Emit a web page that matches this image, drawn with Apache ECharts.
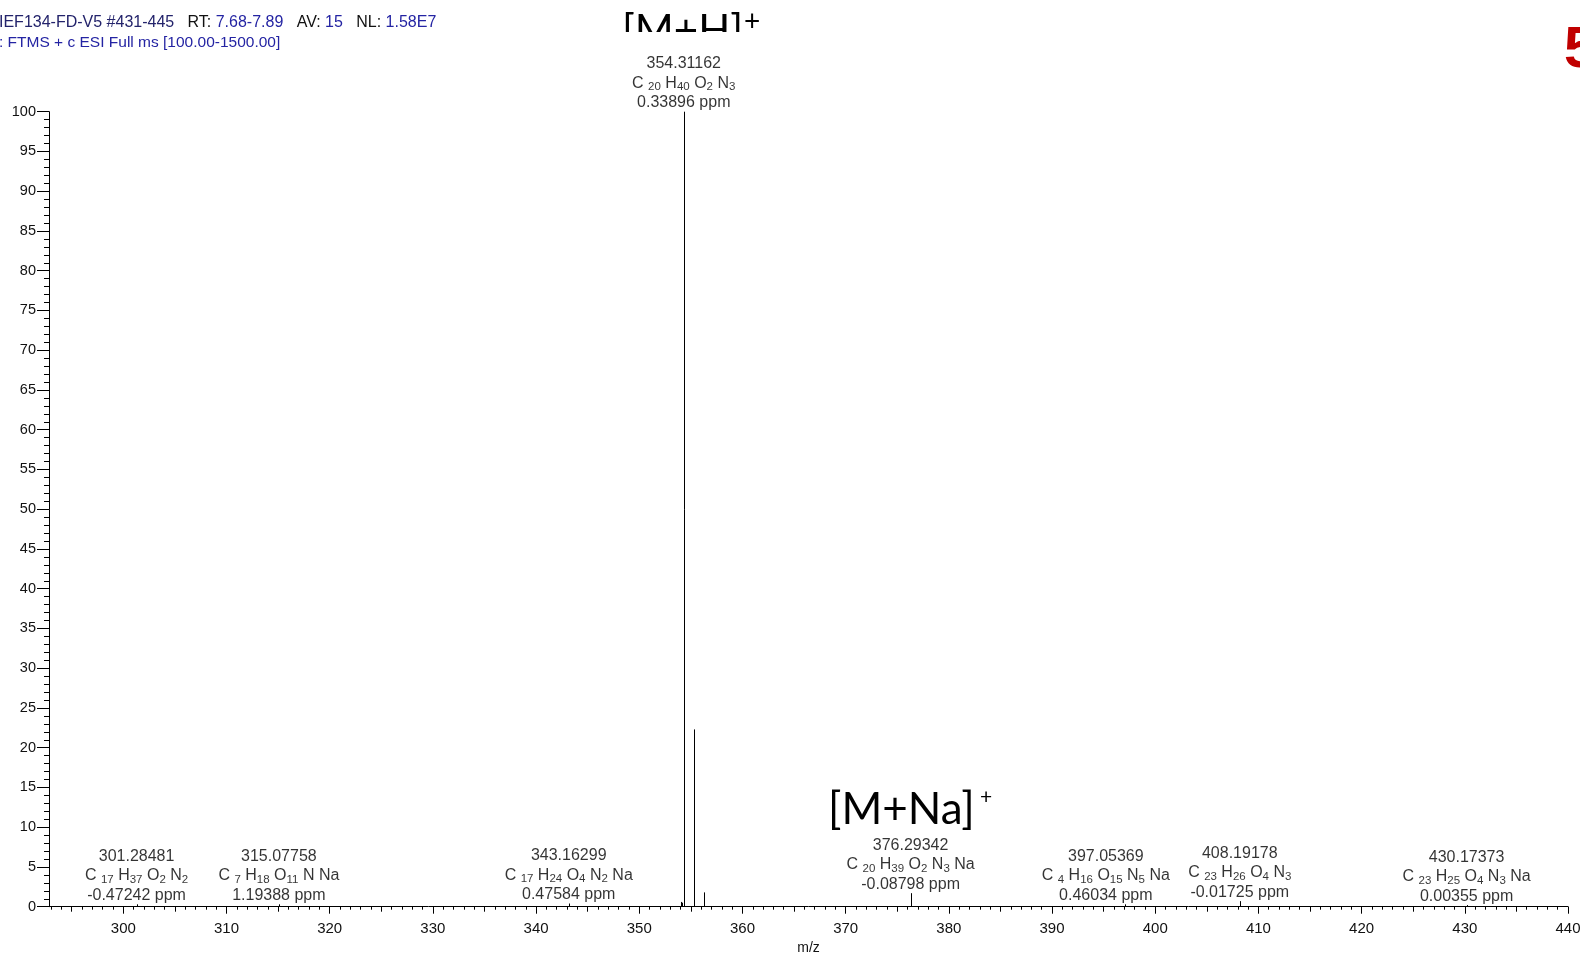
<!DOCTYPE html>
<html>
<head>
<meta charset="utf-8">
<title>FTMS spectrum</title>
<script src="https://cdn.jsdelivr.net/npm/echarts@6/dist/echarts.min.js"></script>
<style>
html, body { margin: 0; padding: 0; background: #fff; }
#main { width: 1580px; height: 956px; }
</style>
</head>
<body>
<div id="main"></div>
<script>
// stick spectrum, relative abundance (%)
var peakMz = [301.28481, 315.07758, 343.16299, 354.05, 354.16, 354.31162, 355.31, 356.31, 376.29342, 397.05369, 408.19178, 430.17373];
var peakInt = [0.3, 0.3, 0.4, 0.6, 0.5, 100, 22.3, 1.8, 1.7, 0.3, 0.7, 0.2];

// annotated peaks
var labelMz = [301.28481, 315.07758, 343.16299, 354.31162, 376.29342, 397.05369, 408.19178, 430.17373];
var labelFormula = ['C17 H37 O2 N2', 'C7 H18 O11 N Na', 'C17 H24 O4 N2 Na', 'C20 H40 O2 N3',
    'C20 H39 O2 N3 Na', 'C4 H16 O15 N5 Na', 'C23 H26 O4 N3', 'C23 H25 O4 N3 Na'];
var labelPpm = ['-0.47242', '1.19388', '0.47584', '0.33896', '-0.08798', '0.46034', '-0.01725', '0.00355'];

var xMajor = [300, 310, 320, 330, 340, 350, 360, 370, 380, 390, 400, 410, 420, 430, 440];

var xMid = [], xMinor = [];
for (var v = 293; v <= 440; v++) {
    if (v % 5 === 0) { if (v % 10 !== 0) xMid.push(v); }
    else xMinor.push(v);
}

var FONT = '"Liberation Sans", Arial, sans-serif';
var DARK = '#000';

function formulaRich(f) {
    return f.split(' ').map(function (part, i) {
        var m = part.match(/^([A-Z][a-z]?)(\d*)$/);
        var s = '{t|' + m[1] + (i === 0 ? ' ' : '') + '}';
        if (m[2]) s += '{s|' + m[2] + '}';
        return s;
    }).join('{t| }');
}

var labelData = labelMz.map(function (mz, i) {
    var item = {value: [mz, peakInt[peakMz.indexOf(mz)]], idx: i};
    // label pushed left by the instrument software to clear its neighbour
    if (mz === 397.05369) item.label = {offset: [-19, 0]};
    return item;
});

var hiddenX = {
    type: 'value', min: 292.8, max: 440, position: 'bottom',
    axisLine: {show: false}, axisLabel: {show: false}, splitLine: {show: false}
};

option = {
    animation: false,
    grid: {left: 49, right: 12, top: 111.7, bottom: 49.3, outerBoundsMode: 'none', containLabel: false},
    xAxis: [{
        type: 'value', min: 292.8, max: 440, position: 'bottom',
        axisLine: {lineStyle: {color: '#000', width: 1}},
        axisTick: {customValues: xMajor, length: 7, lineStyle: {color: '#000'}},
        axisLabel: {customValues: xMajor, fontSize: 15, color: '#111', margin: 15, fontFamily: FONT},
        splitLine: {show: false},
        name: 'm/z', nameLocation: 'middle', nameGap: 34,
        nameTextStyle: {fontSize: 14, color: '#111', fontFamily: FONT}
    },
    Object.assign({}, hiddenX, {axisTick: {customValues: xMid, length: 5, lineStyle: {color: '#000'}}}),
    Object.assign({}, hiddenX, {axisTick: {customValues: xMinor, length: 3, lineStyle: {color: '#000'}}})
    ],
    yAxis: {
        type: 'value', min: 0, max: 100, interval: 5,
        axisLine: {show: true, lineStyle: {color: '#000', width: 1}},
        axisTick: {show: true, length: 12, lineStyle: {color: '#000'}},
        minorTick: {show: true, splitNumber: 5, length: 5, lineStyle: {color: '#000'}},
        axisLabel: {fontSize: 14.5, color: '#111', margin: 13, fontFamily: FONT},
        splitLine: {show: false}
    },
    series: [{
        type: 'custom',
        silent: true,
        data: peakMz.map(function (m, i) { return [m, peakInt[i]]; }),
        renderItem: function (params, api) {
            var p0 = api.coord([api.value(0), 0]);
            var p1 = api.coord([api.value(0), api.value(1)]);
            var x = Math.round(p0[0]) + 0.5;
            return {
                type: 'line',
                shape: {x1: x, y1: p0[1], x2: x, y2: p1[1]},
                style: {stroke: '#000', lineWidth: 1}
            };
        }
    }, {
        type: 'scatter',
        silent: true,
        symbolSize: 0,
        data: labelData,
        label: {
            show: true,
            position: 'top',
            distance: -1,
            align: 'center',
            color: DARK,
            formatter: function (p) {
                var i = p.data.idx;
                return '{t|' + labelMz[i].toFixed(5) + '}\n' + formulaRich(labelFormula[i]) +
                    '\n{t|' + labelPpm[i] + ' ppm}';
            },
            rich: {
                t: {fontSize: 16, lineHeight: 19.5, color: DARK, fontFamily: FONT},
                s: {fontSize: 11.5, lineHeight: 13, verticalAlign: 'bottom', color: DARK, fontFamily: FONT}
            }
        }
    }],
    graphic: [{
        type: 'text', left: -1, top: 15,
        style: {
            text: '{n|IEF134-FD-V5 #431-445}   {k|RT:} {b|7.68-7.89}   {k|AV:} {b|15}   {k|NL:} {b|1.58E7}',
            font: '16px ' + FONT,
            rich: {
                n: {fill: '#23236b', fontSize: 16, fontFamily: FONT},
                k: {fill: '#111', fontSize: 16, fontFamily: FONT},
                b: {fill: '#2424a3', fontSize: 16, fontFamily: FONT}
            }
        }
    }, {
        type: 'text', left: -1, top: 35,
        style: {text: ': FTMS + c ESI Full ms [100.00-1500.00]', fill: '#2424a3', font: '15.5px ' + FONT}
    }, {
        // cropped [M+H]+ tag: the white rect hides its lower half, below the peak labels
        type: 'text', left: 622, top: 10, z: 0,
        style: {text: '[M+H]', fill: '#000', font: '42px Lato, sans-serif'}
    }, {
        type: 'rect', z: 1, shape: {x: 610, y: 32, width: 140, height: 36}, style: {fill: '#fff'}
    }, {
        type: 'text', left: 744, top: 8, z: 0,
        style: {text: '+', fill: '#000', font: '28px Lato, sans-serif'}
    }, {
        type: 'text', left: 828, top: 788, z: 10,
        style: {text: '[M+Na]', fill: '#000', font: '44px Lato, sans-serif'}
    }, {
        type: 'text', left: 980, top: 787, z: 10,
        style: {text: '+', fill: '#000', font: '21px Lato, sans-serif'}
    }, {
        type: 'text', left: 1564, top: 22, z: 10,
        style: {text: '5', fill: '#c00000', font: 'bold 58px "Liberation Sans", Arial, sans-serif'}
    }]
};

var myChart = echarts.init(document.getElementById('main'));
myChart.setOption(option);
</script>
</body>
</html>
